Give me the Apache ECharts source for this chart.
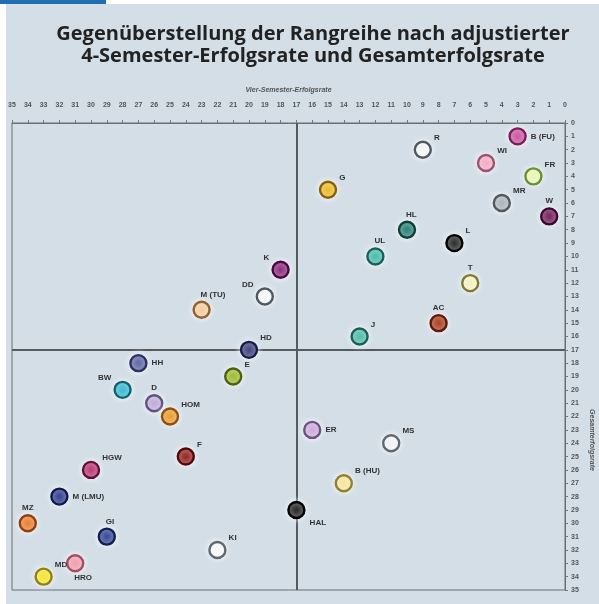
<!DOCTYPE html>
<html>
<head>
<meta charset="utf-8">
<script src="https://cdn.jsdelivr.net/npm/echarts@6/dist/echarts.min.js"></script>
<style>
html,body{margin:0;padding:0;background:#fff;}
#chart{width:599px;height:604px;}
</style>
</head>
<body>
<div id="chart"></div>
<script>
// Data: rank by adjusted 4-semester success rate (x) and overall success rate (y)
var names = ['B (FU)','R','WI','FR','G','MR','W','HL','L','UL','K','T','DD','M (TU)','AC','J','HD','HH','E','BW','D','HOM','ER','MS','F','HGW','B (HU)','M (LMU)','HAL','MZ','GI','KI','HRO','MD'];
var vierSemesterRang = [3,9,5,2,15,4,1,10,7,12,18,6,19,23,8,13,20,27,21,28,26,25,16,11,24,30,14,32,17,34,29,22,31,33];
var gesamtRang = [1,2,3,4,5,6,7,8,9,10,11,12,13,14,15,16,17,18,19,20,21,22,23,24,25,26,27,28,29,30,31,32,33,34];
var xTickLabels = ['0','1','2','3','4','5','6','7','8','9','10','11','12','13','14','15','16','17','18','19','20','21','22','23','24','25','26','27','28','29','30','31','32','33','34','35'];
var yTickLabels = xTickLabels;
var medianX = 17, medianY = 17;

// Styles (kept apart from data)
var fills = ['#c8509a','#f2f4f4','#f0a8c0','#e8f4b0','#e8b820','#a8b0b8','#701858','#1f7a70','#202020','#40b8a8','#8a2078','#f4f0c0','#f4f6f6','#f4c898','#a83818','#48b8a8','#383c78','#5860a0','#98b828','#30b8d0','#b8a8d8','#e89828','#c8a8d8','#f0f2f2','#901818','#b83070','#f4e49a','#2a3888','#1a1a1a','#e87828','#2a4090','#f4f6f6','#f098a8','#f0e428'];
var borders = ['#7a1d5a','#505860','#a05070','#6a9030','#8a6010','#505860','#3a0830','#0d4038','#000000','#1a6058','#4a0840','#807830','#505860','#906030','#601808','#1a6058','#1a1c48','#2a3060','#506010','#106070','#605080','#905010','#705080','#606870','#500808','#601038','#908030','#101850','#000000','#904010','#102050','#606870','#a05060','#908010'];
var labelPlace = ['r','tr','tr','tr','tr','tr','t','ta','tr','ta','tl','t','tl','ta','t','tr','tr','r','tr','tl','t','tr','r','tr','tr','tr','tr','r','br','t','ta','tr','ba','tr'];

function labelFor(code){
  var base = {show:true, formatter:'{b}', color:'#333', fontSize:8, fontWeight:'bold', fontFamily:'Liberation Sans, Arial, sans-serif'};
  switch(code){
    case 'r': base.position='right'; base.distance=4; break;
    case 'tr': base.position='right'; base.distance=2; base.offset=[0,-12]; break;
    case 'tl': base.position='left'; base.distance=2; base.offset=[0,-12]; break;
    case 't': base.position='top'; base.distance=2; break;
    case 'ta': base.position='top'; base.distance=2; base.align='left'; base.offset=[-1,0]; break;
    case 'br': base.position='right'; base.distance=2; base.offset=[2,13]; break;
    case 'ba': base.position='bottom'; base.distance=1; base.align='left'; base.offset=[-1,0]; break;
  }
  return base;
}

var seriesData = names.map(function(n,i){
  return {
    name:n,
    value:[vierSemesterRang[i], gesamtRang[i]],
    itemStyle:{color:fills[i], opacity:1, borderColor:borders[i], borderWidth:2.4, shadowBlur:6, shadowColor:'rgba(255,255,255,0.9)'},
    label:labelFor(labelPlace[i])
  };
});

var chart = echarts.init(document.getElementById('chart'), null, {renderer:'canvas'});
var axisFont = {fontSize:7, color:'#555', fontWeight:'bold', fontFamily:'Liberation Sans, Arial, sans-serif'};
chart.setOption({
  backgroundColor:'#ffffff',
  animation:false,
  graphic:[
    {type:'rect', z:-10, shape:{x:6,y:4,width:593,height:600}, style:{fill:'#d3dee6'}},
    {type:'rect', z:-10, shape:{x:0,y:0,width:106,height:4}, style:{fill:'#1f6fb2'}},
    {type:'text', z:10, x:592, y:440, rotation:-Math.PI/2, style:{text:'Gesamterfolgsrate', fontSize:7, fontStyle:'italic', fontWeight:'bold', fill:'#555', align:'center', verticalAlign:'middle', fontFamily:'Liberation Sans, Arial, sans-serif'}}
  ],
  title:{
    text:'Gegenüberstellung der Rangreihe nach adjustierter\n4-Semester-Erfolgsrate und Gesamterfolgsrate',
    left:308, top:18, textAlign:'center',
    textStyle:{fontSize:20, fontWeight:'bold', color:'#222', fontFamily:'Open Sans, sans-serif', lineHeight:22}
  },
  grid:{left:12, right:34, top:123, bottom:14, show:true, borderColor:'#6a6f74', borderWidth:1, backgroundColor:'transparent'},
  xAxis:{
    type:'value', inverse:true, min:0, max:35, interval:1, position:'top',
    name:'Vier-Semester-Erfolgsrate', nameLocation:'middle', nameGap:29,
    nameTextStyle:{fontSize:7, fontStyle:'italic', fontWeight:'bold', color:'#555', fontFamily:'Liberation Sans, Arial, sans-serif'},
    axisLine:{show:true, lineStyle:{color:'#6a6f74', width:1}},
    axisTick:{show:true, inside:false, length:3, lineStyle:{color:'#777'}},
    axisLabel:Object.assign({margin:14, formatter:function(v){return xTickLabels[v];}}, axisFont),
    splitLine:{show:false}
  },
  yAxis:{
    type:'value', inverse:true, min:0, max:35, interval:1, position:'right',
    axisLine:{show:true, lineStyle:{color:'#6a6f74', width:1}},
    axisTick:{show:true, length:3, lineStyle:{color:'#777'}},
    axisLabel:Object.assign({margin:6, formatter:function(v){return yTickLabels[v];}}, axisFont),
    splitLine:{show:false}
  },
  series:[{
    type:'scatter',
    symbol:'circle',
    symbolSize:16,
    data:seriesData,
    markLine:{
      silent:true, symbol:'none', label:{show:false},
      lineStyle:{color:'#555a5e', width:2, type:'solid'},
      data:[{xAxis:medianX},{yAxis:medianY}]
    },
    z:5
  }]
});
</script>
</body>
</html>
